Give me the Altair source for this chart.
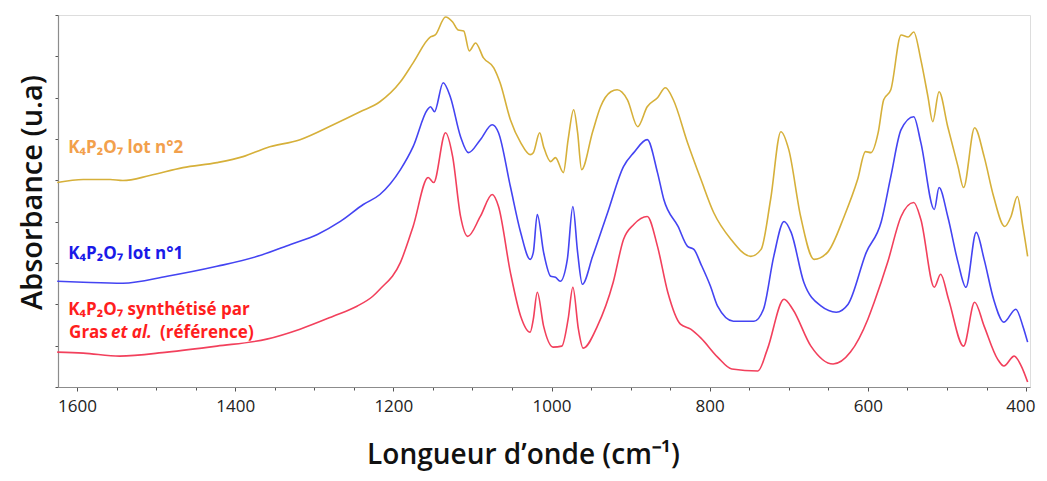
import altair as alt
import pandas as pd

# ---- data (wavenumber in cm-1, absorbance in arbitrary units) ----
series_names = ["K4P2O7 lot n°2", "K4P2O7 lot n°1", "K4P2O7 référence"]
line_colors = ["#D6B03A", "#4444F2", "#F2405C"]

lot2_wn = [1625, 1592, 1558, 1542, 1508, 1466, 1423, 1390, 1360, 1318, 1276, 1242, 1217, 1191, 1175,
           1153, 1147, 1134, 1125, 1118, 1111, 1104, 1096, 1086, 1073, 1065, 1052, 1039, 1027, 1023,
           1015, 1010, 1001, 995, 985, 979, 972, 967, 962, 948, 938, 925, 917, 904, 891, 879, 866,
           856, 846, 828, 811, 795, 773, 748, 735, 723, 710, 700, 685, 668, 651, 630, 613, 603, 596,
           587, 580, 571, 558, 549, 542, 533, 524, 518, 510, 499, 486, 479, 465, 453, 441, 427, 419,
           411, 404, 398]
lot2_abs = [2.05, 2.08, 2.08, 2.07, 2.12, 2.20, 2.25, 2.31, 2.40, 2.48, 2.63, 2.76, 2.86, 3.06, 3.25,
            3.51, 3.53, 3.71, 3.66, 3.58, 3.57, 3.37, 3.45, 3.30, 3.20, 3.05, 2.68, 2.45, 2.33, 2.35,
            2.55, 2.41, 2.26, 2.30, 2.15, 2.48, 2.78, 2.55, 2.18, 2.56, 2.81, 2.96, 2.98, 2.88, 2.61,
            2.81, 2.90, 3.00, 2.88, 2.45, 2.08, 1.75, 1.48, 1.31, 1.38, 1.88, 2.56, 2.38, 1.71, 1.28,
            1.35, 1.71, 2.08, 2.36, 2.35, 2.55, 2.88, 2.98, 3.53, 3.51, 3.56, 3.28, 2.91, 2.66, 2.96,
            2.61, 2.21, 2.00, 2.60, 2.31, 1.91, 1.61, 1.71, 1.91, 1.61, 1.31]

lot1_wn = [1625, 1592, 1542, 1486, 1423, 1372, 1330, 1296, 1267, 1238, 1217, 1191, 1175, 1157, 1153,
           1148, 1137, 1128, 1115, 1105, 1090, 1075, 1067, 1052, 1039, 1027, 1023, 1018, 1010, 1001,
           995, 989, 980, 973, 967, 961, 948, 929, 909, 896, 879, 866, 858, 840, 828, 820, 811, 799,
           790, 770, 744, 732, 719, 706, 697, 681, 659, 640, 625, 602, 583, 571, 558, 542, 533, 516,
           510, 499, 486, 476, 463, 453, 441, 428, 413, 404, 398]
lot1_abs = [1.06, 1.05, 1.04, 1.11, 1.21, 1.31, 1.43, 1.53, 1.66, 1.83, 1.93, 2.18, 2.41, 2.78, 2.81,
            2.76, 3.05, 2.91, 2.51, 2.35, 2.48, 2.63, 2.55, 2.01, 1.55, 1.28, 1.35, 1.73, 1.35, 1.11,
            1.10, 1.06, 1.28, 1.81, 1.35, 1.03, 1.31, 1.75, 2.21, 2.35, 2.48, 2.15, 1.88, 1.61, 1.41,
            1.38, 1.23, 1.01, 0.81, 0.66, 0.66, 0.78, 1.31, 1.66, 1.55, 1.05, 0.81, 0.75, 0.83, 1.35,
            1.66, 2.11, 2.58, 2.71, 2.45, 1.78, 2.00, 1.71, 1.25, 1.00, 1.55, 1.28, 0.88, 0.65, 0.78,
            0.61, 0.45]

ref_wn = [1625, 1592, 1546, 1486, 1423, 1360, 1318, 1276, 1246, 1226, 1217, 1191, 1175, 1156, 1149,
          1134, 1125, 1115, 1106, 1090, 1075, 1067, 1052, 1039, 1027, 1023, 1018, 1010, 998, 987, 979,
          973, 966, 960, 942, 922, 909, 896, 879, 866, 853, 837, 824, 811, 790, 772, 739, 727, 706,
          695, 672, 644, 622, 600, 592, 575, 558, 542, 533, 516, 508, 498, 479, 465, 453, 436, 428,
          415, 406, 398]
ref_abs = [0.35, 0.34, 0.31, 0.35, 0.41, 0.48, 0.58, 0.71, 0.81, 0.91, 0.98, 1.25, 1.61, 2.10, 2.05,
           2.55, 2.31, 1.71, 1.51, 1.71, 1.93, 1.81, 1.15, 0.71, 0.55, 0.68, 0.95, 0.61, 0.40, 0.41,
           0.68, 1.00, 0.58, 0.39, 0.61, 1.05, 1.48, 1.63, 1.71, 1.41, 0.95, 0.63, 0.58, 0.49, 0.30,
           0.18, 0.16, 0.38, 0.88, 0.78, 0.41, 0.23, 0.35, 0.68, 0.85, 1.25, 1.71, 1.85, 1.68, 1.00,
           1.13, 0.88, 0.41, 0.85, 0.61, 0.28, 0.21, 0.31, 0.21, 0.05]

x_tick_values = list(range(400, 1601, 50))
y_tick_step = 0.1036
y_tick_values = [round(k * y_tick_step, 4) for k in range(37)]

# annotation labels
label_text = ["K₄P₂O₇ lot n°2", "K₄P₂O₇ lot n°1", "K₄P₂O₇ synthétisé par", "Gras", "(référence)"]
label_wn = [1611, 1611, 1611, 1610, 1495]
label_abs = [2.40, 1.33, 0.77, 0.54, 0.54]
label_color = ["#F2A04C", "#1A1AE8", "#FF1E1E", "#FF1E1E", "#FF1E1E"]
italic_text = ["et al."]
italic_wn = [1557]
italic_abs = [0.54]
italic_color = ["#FF1E1E"]

# ---- build table ----
rows = []
for name, wns, abss in zip(series_names, [lot2_wn, lot1_wn, ref_wn], [lot2_abs, lot1_abs, ref_abs]):
    for i, (w, a) in enumerate(zip(wns, abss)):
        rows.append({"serie": name, "wn": w, "abs": a, "ordre": i})
df = pd.DataFrame(rows)

labels_df = pd.DataFrame({"txt": label_text, "wn": label_wn, "abs": label_abs, "col": label_color})
italic_df = pd.DataFrame({"txt": italic_text, "wn": italic_wn, "abs": italic_abs, "col": italic_color})

FONT = "Open Sans"

x_scale = alt.Scale(domain=[395, 1624], reverse=True, nice=False, zero=False)
y_scale = alt.Scale(domain=[0, 3.73], nice=False, zero=False)

x_axis = alt.Axis(
    title="Longueur d’onde (cm⁻¹)",
    values=x_tick_values,
    format="d",
    labelExpr="datum.value % 200 == 0 ? datum.label : ''",
    labelFont=FONT, labelFontSize=17, labelColor="#222222", labelPadding=7,
    labelFlush=5, labelFlushOffset=9,
    tickSize={"condition": {"test": "datum.value % 200 == 0", "value": 4}, "value": 3},
    tickColor="#555555", tickWidth=1,
    domainColor="#8c8c8c", domainWidth=1.2,
    grid=False,
    titleFont=FONT, titleFontSize=28, titleFontWeight=600, titleColor="#111111",
    titleX=465, titleY=76, titleAlign="center", titleBaseline="alphabetic",
)
y_axis = alt.Axis(
    title="Absorbance (u.a)",
    values=y_tick_values,
    labels=False,
    tickSize={"condition": {"test": "round(datum.value / 0.1036) % 4 == 1", "value": 5}, "value": 3},
    tickColor="#555555", tickWidth=1,
    domainColor="#8c8c8c", domainWidth=1.2,
    grid=False,
    titleFont=FONT, titleFontSize=29, titleFontWeight=600, titleColor="#111111",
    titleAngle=-90, titleX=-26, titleY=177, titleAlign="center", titleBaseline="middle",
)

lines = alt.Chart(df).mark_line(strokeWidth=1.6, interpolate="monotone").encode(
    x=alt.X("wn:Q", scale=x_scale, axis=x_axis),
    y=alt.Y("abs:Q", scale=y_scale, axis=y_axis),
    color=alt.Color("serie:N", scale=alt.Scale(domain=series_names, range=line_colors), legend=None),
    order="ordre:Q",
)

labels = alt.Chart(labels_df).mark_text(
    align="left", baseline="middle", font=FONT, fontSize=17, fontWeight="bold"
).encode(
    x=alt.X("wn:Q", scale=x_scale),
    y=alt.Y("abs:Q", scale=y_scale),
    text="txt:N",
    color=alt.Color("col:N", scale=None),
)

italic_labels = alt.Chart(italic_df).mark_text(
    align="left", baseline="middle", font=FONT, fontSize=17, fontWeight="bold", fontStyle="italic"
).encode(
    x=alt.X("wn:Q", scale=x_scale),
    y=alt.Y("abs:Q", scale=y_scale),
    text="txt:N",
    color=alt.Color("col:N", scale=None),
)

chart = alt.layer(lines, labels, italic_labels).properties(
    width=972, height=372,
    autosize=alt.AutoSizeParams(type="none"),
    padding={"left": 50, "top": 7, "right": 9, "bottom": 86},
).configure_view(stroke=None).configure(background="white")

chart.save("out.html", embed_options={"renderer": "svg", "actions": False})
